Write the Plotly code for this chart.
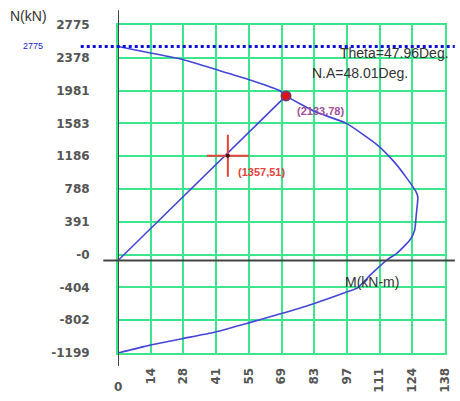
import plotly.graph_objects as go

# Interaction curve (M in kN-m, N in kN)
M_curve = [0, 14.5, 29.6, 44.8, 59.9, 75.0, 78.0, 91.6, 106.0, 120.3, 127.9, 133.9, 138.5,
           139.2, 138.5, 137.7, 135.5, 129.4, 124.9, 117.3, 111.2, 105.2, 90.1, 75.0, 59.9,
           44.8, 29.6, 14.5, 0]
N_curve = [2775, 2694, 2609, 2481, 2353, 2203, 2133, 1927, 1777, 1500, 1288, 1074, 882,
           818, 605, 393, 265, 93, 9, -183, -354, -418, -566, -694, -815,
           -930, -1014, -1100, -1199]

# Load line / points
cap_M, cap_N = 78, 2133
load_M, load_N = 51, 1357
N_max, N_min, M_max = 2775, -1199, 138

x_tick_labels = ["0", "14", "28", "41", "55", "69", "83", "97", "111", "124", "138"]
y_tick_labels = ["-1199", "-802", "-404", "-0", "391", "788", "1186", "1583", "1981", "2378", "2775"]

x_top = 1.1 * M_max
y_top = 1.1 * N_max
x_tickvals = [k * x_top / 10 for k in range(11)]
y_tickvals = [N_min + k * (y_top - N_min) / 10 for k in range(11)]

GREEN = "#3de68c"
BLUE = "#4545d8"
AXC = "#444444"

fig = go.Figure()
fig.add_trace(go.Scatter(x=M_curve, y=N_curve, mode="lines",
                         line=dict(color=BLUE, width=1.6, shape="spline", smoothing=0.5),
                         hoverinfo="skip"))
fig.add_trace(go.Scatter(x=[0, cap_M], y=[0, cap_N], mode="lines",
                         line=dict(color=BLUE, width=1.6), hoverinfo="skip"))
# red cross at load point
fig.add_trace(go.Scatter(x=[load_M], y=[load_N], mode="markers",
                         marker=dict(symbol="cross-thin", size=30,
                                     line=dict(color="#e8403c", width=2)), hoverinfo="skip"))
fig.add_trace(go.Scatter(x=[load_M], y=[load_N], mode="markers",
                         marker=dict(symbol="circle", size=4, color="#401010"), hoverinfo="skip"))
# capacity point
fig.add_trace(go.Scatter(x=[cap_M], y=[cap_N], mode="markers",
                         marker=dict(symbol="circle", size=9, color="#e01010",
                                     line=dict(color="#7a3a6a", width=2)), hoverinfo="skip"))

fig.update_layout(
    width=460, height=401,
    margin=dict(l=118, r=8, t=25, b=44),
    paper_bgcolor="white", plot_bgcolor="white",
    showlegend=False,
    xaxis=dict(range=[0, x_top], tickvals=x_tickvals,
               ticktext=[""] + x_tick_labels[1:], tickangle=-90,
               showgrid=True, gridcolor=GREEN, gridwidth=2,
               showline=True, linecolor=GREEN, linewidth=2, mirror=True,
               zeroline=False, ticks="", ticklabelstandoff=8,
               tickfont=dict(family="DejaVu Sans", size=12, color="#555555", weight="bold")),
    yaxis=dict(range=[N_min, y_top], tickvals=y_tickvals, ticktext=y_tick_labels,
               showgrid=True, gridcolor=GREEN, gridwidth=2,
               showline=True, linecolor=GREEN, linewidth=2, mirror=True,
               zeroline=False, ticks="", ticklabelstandoff=24,
               tickfont=dict(family="DejaVu Sans", size=12, color="#555555", weight="bold")),
)

shapes = [
    # black axes
    dict(type="line", xref="x", yref="paper", x0=0, x1=0, y0=-0.04, y1=1.045,
         line=dict(color=AXC, width=2)),
    dict(type="line", xref="paper", yref="y", x0=-0.045, x1=1.03, y0=0, y1=0,
         line=dict(color=AXC, width=2)),
    # dotted Nmax line
    dict(type="line", xref="paper", yref="y", x0=-0.114, x1=1.03, y0=N_max, y1=N_max,
         line=dict(color="#1010d8", width=3, dash="dot")),
]
fig.update_layout(shapes=shapes)

ann_font = dict(family="Arial", size=14, color="#333333")
fig.add_annotation(text="N(kN)", xref="paper", yref="paper", x=-0.335, y=1.027,
                   xanchor="left", yanchor="middle", showarrow=False, font=ann_font)
fig.add_annotation(text=str(N_max), xref="paper", yref="y", x=-0.26, y=N_max,
                   xanchor="center", yanchor="middle", showarrow=False,
                   font=dict(family="Arial", size=9, color="#2020d0"))
fig.add_annotation(text="0", xref="x", yref="paper", x=0, y=-0.105,
                   xanchor="center", yanchor="middle", showarrow=False,
                   font=dict(family="DejaVu Sans", size=12, color="#555555", weight="bold"))
fig.add_annotation(text="Theta=47.96Deg.", xref="paper", yref="paper", x=0.674, y=0.916,
                   xanchor="left", yanchor="middle", showarrow=False, font=ann_font)
fig.add_annotation(text="N.A=48.01Deg.", xref="paper", yref="paper", x=0.587, y=0.855,
                   xanchor="left", yanchor="middle", showarrow=False, font=ann_font)
fig.add_annotation(text=f"({cap_N},{cap_M})", xref="x", yref="y", x=cap_M, y=cap_N,
                   xanchor="left", yanchor="middle", xshift=9, yshift=-15, showarrow=False,
                   font=dict(family="Arial", size=11, color="#a0509a", weight="bold"))
fig.add_annotation(text=f"({load_N},{load_M})", xref="x", yref="y", x=load_M, y=load_N,
                   xanchor="left", yanchor="middle", xshift=8, yshift=-16, showarrow=False,
                   font=dict(family="Arial", size=11, color="#e8403c", weight="bold"))
fig.add_annotation(text="M(kN-m)", xref="paper", yref="paper", x=0.689, y=0.217,
                   xanchor="left", yanchor="middle", showarrow=False, font=ann_font)

fig.write_html("out.html")
